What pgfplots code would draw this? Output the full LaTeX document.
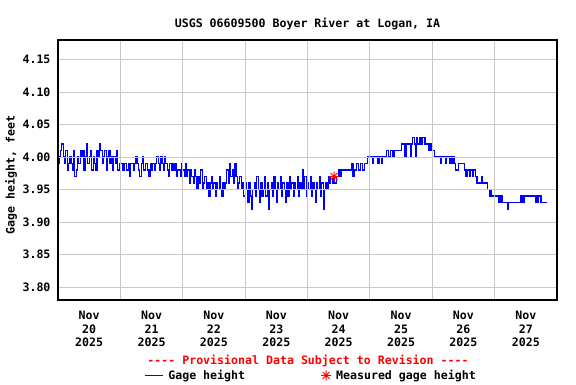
\documentclass[border=0pt]{standalone}
\usepackage{fontspec}
\newfontfamily\chartfam{DejaVu Sans Mono}
\usepackage{pgfplots}
\pgfplotsset{compat=1.18}
\definecolor{gridgray}{RGB}{200,200,200}
\definecolor{usgsblue}{RGB}{0,0,255}
\definecolor{usgsred}{RGB}{255,0,0}
\newcommand\chartfont{\chartfam\fontsize{11.6bp}{13.4bp}\selectfont\bfseries}
\pgfdeclareplotmark{star8}{%
  \pgfpathmoveto{\pgfqpoint{-\pgfplotmarksize}{0pt}}\pgfpathlineto{\pgfqpoint{\pgfplotmarksize}{0pt}}%
  \pgfpathmoveto{\pgfqpoint{0pt}{-\pgfplotmarksize}}\pgfpathlineto{\pgfqpoint{0pt}{\pgfplotmarksize}}%
  \pgfpathmoveto{\pgfqpoint{-0.7\pgfplotmarksize}{-0.7\pgfplotmarksize}}\pgfpathlineto{\pgfqpoint{0.7\pgfplotmarksize}{0.7\pgfplotmarksize}}%
  \pgfpathmoveto{\pgfqpoint{-0.7\pgfplotmarksize}{0.7\pgfplotmarksize}}\pgfpathlineto{\pgfqpoint{0.7\pgfplotmarksize}{-0.7\pgfplotmarksize}}%
  \pgfusepathqstroke}
\pgfplotsset{lineleg/.style={legend image code/.code={\draw[##1, draw=usgsblue] (0bp,0bp) -- (18bp,0bp);}}}
\begin{document}
\begin{tikzpicture}
\path (0,0) rectangle (576bp,384bp);
\begin{axis}[
  at={(58bp,84bp)}, anchor=south west,
  scale only axis, width=499bp, height=260bp,
  xmin=0, xmax=192, ymin=3.78, ymax=4.18,
  xtick={12,36,60,84,108,132,156,180},
  xticklabels={{Nov\\20\\2025},{Nov\\21\\2025},{Nov\\22\\2025},{Nov\\23\\2025},{Nov\\24\\2025},{Nov\\25\\2025},{Nov\\26\\2025},{Nov\\27\\2025}},
  minor xtick={24,48,72,96,120,144,168},
  ytick={3.80,3.85,3.90,3.95,4.00,4.05,4.10,4.15},
  yticklabels={3.80,3.85,3.90,3.95,4.00,4.05,4.10,4.15},
  xminorgrids=true, xmajorgrids=false, ymajorgrids=true,
  major tick length=0pt, minor tick length=0pt,
  grid style={gridgray, line width=1bp},
  minor grid style={gridgray, line width=1bp},
  axis line style={black, line width=1.1bp},
  axis on top,
  tick label style={font=\chartfont},
  xticklabel style={align=center, yshift=-8bp},
  yticklabel style={xshift=-4bp},
  title={USGS 06609500 Boyer River at Logan, IA},
  title style={font=\chartfont, at={(axis description cs:0.5,1.04)}, anchor=center},
  ylabel={Gage height, feet},
  every axis y label/.style={at={(axis description cs:-0.094,0.48)}, rotate=90, anchor=center, font=\chartfont},
  legend columns=2,
  legend style={at={(axis description cs:0.507,-0.29)}, anchor=center, draw=none, fill=none, font=\chartfont,
    /tikz/every even column/.append style={column sep=74bp},
    /tikz/every odd column/.append style={column sep=3bp}},
]
\addplot[const plot, usgsblue, line width=1.1bp, lineleg] coordinates {
(0,3.99)(0.5,4.00)(1,4.01)(1.5,4.02)(2,4.00)(2.5,3.99)(3,4.01)(3.5,3.98)(4,3.99)(4.5,4.00)
(5,3.99)(5.5,3.98)(6,4.01)(6.5,3.97)(7,3.98)(7.5,4.00)(8,3.99)(8.5,4.01)(9,4.00)(9.5,4.01)
(10,3.98)(10.5,4.00)(11,4.02)(11.5,3.99)(12,4.00)(12.5,4.01)(13,3.98)(13.5,4.00)(14,3.99)(14.5,3.98)
(15,4.01)(15.5,4.00)(16,4.02)(16.5,4.01)(17,3.99)(17.5,4.00)(18,4.01)(18.5,3.98)(19,4.00)(19.5,4.01)
(20,3.99)(20.5,4.00)(21,3.98)(21.5,4.00)(22,3.99)(22.5,4.01)(23,3.98)(23.5,3.99)
(24,3.99)(24.5,3.99)(25,3.98)(25.5,3.99)(26,3.99)(26.5,3.98)(27,3.99)(27.5,3.97)(28,3.99)(28.5,3.99)
(29,3.98)(29.5,3.99)(30,4.00)(30.5,3.99)(31,3.98)(31.5,3.97)(32,3.99)(32.5,4.00)(33,3.98)(33.5,3.99)
(34,3.99)(34.5,3.98)(35,3.97)(35.5,3.99)(36,3.98)(36.5,3.99)(37,3.98)(37.5,3.99)(38,4.00)(38.5,3.99)
(39,3.98)(39.5,4.00)(40,3.99)(40.5,3.98)(41,4.00)(41.5,3.99)(42,3.98)(42.5,3.97)(43,3.99)(43.5,3.98)
(44,3.99)(44.5,3.98)(45,3.99)(45.5,3.97)(46,3.98)(46.5,3.98)(47,3.97)(47.5,3.99)
(48,3.98)(48.5,3.97)(49,3.99)(49.5,3.97)(50,3.98)(50.5,3.96)(51,3.98)(51.5,3.97)(52,3.96)(52.5,3.98)
(53,3.97)(53.5,3.95)(54,3.97)(54.5,3.96)(55,3.98)(55.5,3.95)(56,3.96)(56.5,3.97)(57,3.95)(57.5,3.96)
(58,3.94)(58.5,3.96)(59,3.97)(59.5,3.95)(60,3.96)(60.5,3.94)(61,3.96)(61.5,3.95)(62,3.97)(62.5,3.95)
(63,3.94)(63.5,3.96)(64,3.95)(64.5,3.96)(65,3.98)(65.5,3.96)(66,3.99)(66.5,3.97)(67,3.98)(67.5,3.96)
(68,3.99)(68.5,3.97)(69,3.95)(69.5,3.96)(70,3.97)(70.5,3.95)(71,3.96)(71.5,3.94)
(72,3.96)(72.5,3.95)(73,3.93)(73.5,3.96)(74,3.94)(74.5,3.92)(75,3.95)(75.5,3.96)(76,3.94)(76.5,3.97)
(77,3.95)(77.5,3.93)(78,3.96)(78.5,3.94)(79,3.95)(79.5,3.97)(80,3.94)(80.5,3.96)(81,3.92)(81.5,3.95)
(82,3.96)(82.5,3.94)(83,3.97)(83.5,3.95)(84,3.93)(84.5,3.96)(85,3.95)(85.5,3.97)(86,3.94)(86.5,3.96)
(87,3.95)(87.5,3.93)(88,3.96)(88.5,3.94)(89,3.97)(89.5,3.95)(90,3.96)(90.5,3.94)(91,3.96)(91.5,3.95)
(92,3.97)(92.5,3.94)(93,3.96)(93.5,3.95)(94,3.98)(94.5,3.95)(95,3.97)(95.5,3.94)
(96,3.96)(96.5,3.95)(97,3.97)(97.5,3.94)(98,3.96)(98.5,3.95)(99,3.93)(99.5,3.96)(100,3.95)(100.5,3.97)
(101,3.94)(101.5,3.96)(102,3.92)(102.5,3.95)(103,3.96)(103.5,3.95)(104,3.97)(104.5,3.96)(105,3.97)(105.5,3.96)
(106,3.97)(106.5,3.96)(107,3.97)(107.5,3.97)
(108,3.98)(108.5,3.97)(109,3.98)(113,3.99)(113.5,3.97)(114,3.98)(115,3.99)(115.5,3.98)(116.5,3.99)(117,3.98)
(118,3.99)(119,4.00)(121,3.99)(121.5,4.00)(123,3.99)(123.5,4.00)(124.5,3.99)(125,4.00)(126.5,4.01)(127.3,4.00)
(127.8,4.01)(128.8,4.00)(129.3,4.01)(132,4.02)(133.5,4.00)(134,4.02)(135.5,4.00)(136,4.02)(136.5,4.03)(137,4.02)
(137.4,4.00)(137.8,4.03)(138.3,4.02)(139.3,4.03)(139.8,4.02)(140.3,4.03)(141.2,4.02)(142.4,4.01)(142.9,4.02)(143.5,4.01)
(145,4.00)(147.2,3.99)(147.7,4.00)(149.1,3.99)(149.6,4.00)(150.6,3.99)(151,4.00)(151.6,3.99)(152,4.00)(152.5,3.99)
(152.9,3.98)(154.2,3.99)(156.5,3.98)(157,3.97)(157.5,3.98)(158.3,3.97)(158.8,3.98)(159.5,3.97)(160,3.98)(160.6,3.97)
(161.2,3.96)(163,3.97)(163.4,3.96)(165.1,3.95)(165.9,3.94)(166.2,3.95)(166.7,3.94)(169.6,3.93)(170,3.94)(170.4,3.93)
(170.8,3.94)(171.2,3.93)(172.8,3.92)(173.2,3.93)(177.9,3.94)(178.3,3.93)(178.7,3.94)(179.2,3.93)(179.6,3.94)(183.7,3.93)
(184.1,3.94)(184.6,3.93)(185,3.94)(185.5,3.93)(185.9,3.94)(186.2,3.93)(188.1,3.93)
};
\addlegendentry{Gage height}
\addplot[only marks, mark=star8, mark size=5bp, usgsred, line width=1bp] coordinates {(106.2,3.97)};
\addlegendentry{Measured gage height}
\end{axis}
\node[text=usgsred, font=\chartfont] at (308bp,23bp) {{-}{-}{-}{-} Provisional Data Subject to Revision {-}{-}{-}{-}};
\end{tikzpicture}
\end{document}
